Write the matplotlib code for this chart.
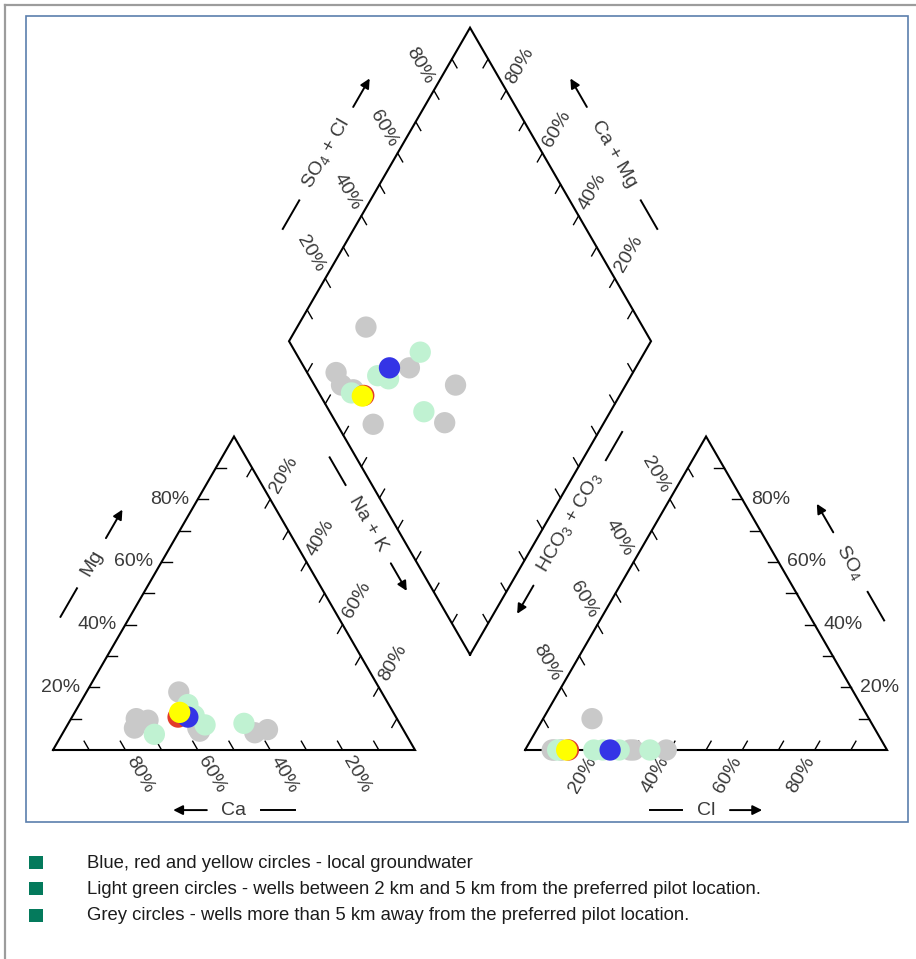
import numpy as np
import matplotlib.pyplot as plt
from matplotlib.patches import Rectangle
from matplotlib.lines import Line2D

plt.rcParams['font.family'] = ['Liberation Sans', 'DejaVu Sans']
plt.rcParams['mathtext.fontset'] = 'custom'
plt.rcParams['mathtext.rm'] = 'Liberation Sans'
plt.rcParams['mathtext.it'] = 'Liberation Sans:italic'
plt.rcParams['mathtext.bf'] = 'Liberation Sans:bold'

# sample chemistry, % of meq  (Ca = 100 - Mg - Na,  HCO3 = 100 - SO4 - Cl)
grey_mg = [7, 10, 9.5, 6, 5.5, 6.5, 18.5, 7]
grey_na = [19, 18, 21.5, 37.5, 53, 56, 25.5, 36.5]
grey_so4 = [10, 0, 0, 0, 0, 0, 0, 0]
grey_cl = [13.5, 8, 7.5, 29, 39, 30, 10, 10]

green_mg = [14.5, 5, 8, 8.5, 11]
green_na = [30, 25.5, 38, 48.5, 33.5]
green_so4 = [0, 0, 0, 0, 0]
green_cl = [19, 9, 34.5, 26, 21.5]

# local groundwater: red, blue, yellow
local_mg = [10.5, 10.5, 12]
local_na = [29.3, 32, 29]
local_so4 = [0, 0, 0]
local_cl = [12, 23.5, 11.5]
local_colors = ['#e23b2a', '#3434e6', '#ffff00']

tick_vals = [20, 40, 60, 80]
legend_lines = [
    'Blue, red and yellow circles - local groundwater',
    'Light green circles - wells between 2 km and 5 km from the preferred pilot location.',
    'Grey circles - wells more than 5 km away from the preferred pilot location.',
]

# geometry (side of each triangle = 1)
H = np.sqrt(3) / 2
GAP = 0.304
X0 = 1 + GAP              # left corner of the anion triangle
BX, BY = 1 + GAP / 2, GAP * H   # bottom corner of the diamond
U1 = np.array([0.5, H])
U2 = np.array([-0.5, H])


def cation_xy(mg, na):
    mg = np.asarray(mg) / 100.
    na = np.asarray(na) / 100.
    return na + mg / 2, mg * H


def anion_xy(so4, cl):
    so4 = np.asarray(so4) / 100.
    cl = np.asarray(cl) / 100.
    return X0 + cl + so4 / 2, so4 * H


def diamond_xy(mg, na, so4, cl):
    s = (np.asarray(so4) + np.asarray(cl)) / 100.
    c = 1 - np.asarray(na) / 100.
    return BX + (s - c) / 2, BY + (s + c) * H


W, Hpx = 916, 959
PX = 362.0   # pixels per unit
fig = plt.figure(figsize=(W / 100, Hpx / 100), dpi=100)
ax = fig.add_axes([0, 0, 1, 1])
ax.set_xlim(-53 / PX, (W - 53) / PX)
ax.set_ylim((750 - Hpx) / PX, 750 / PX)
ax.axis('off')

# page frames
fig.add_artist(Line2D([5 / W, 5 / W], [0, 1 - 5 / Hpx], transform=fig.transFigure,
                      color='#9c9c9c', lw=1.6))
fig.add_artist(Line2D([5 / W, 1], [1 - 5 / Hpx, 1 - 5 / Hpx], transform=fig.transFigure,
                      color='#9c9c9c', lw=1.6))
fig.add_artist(Rectangle((26 / W, 1 - 822 / Hpx), (908 - 26) / W, (822 - 16) / Hpx,
                         transform=fig.transFigure, fill=False, edgecolor='#5b7fad', lw=1.2))

LW = 1.5
TL = 0.028        # tick length
LO = 0.078        # tick label offset
lab_kw = dict(fontsize=14, color='#3a3a3a', ha='center', va='center')


def axis_ticks(p0, p1, inward, labels=None, out=None, rot=0):
    # p0 -> p1 runs from 0 % to 100 % of the labelled variable
    p0, p1 = np.array(p0), np.array(p1)
    inward = np.array(inward)
    for k in range(1, 10):
        p = p0 + (p1 - p0) * k / 10
        q = p + TL * inward
        ax.plot([p[0], q[0]], [p[1], q[1]], color='k', lw=1.0)
    if labels:
        for v in tick_vals:
            p = p0 + (p1 - p0) * v / 100 + LO * np.array(out)
            ax.text(p[0], p[1], '%d%%' % v, rotation=rot, rotation_mode='anchor',
                    **lab_kw)


def outline(pts):
    pts = np.array(pts + [pts[0]])
    ax.plot(pts[:, 0], pts[:, 1], color='k', lw=LW, solid_joinstyle='miter')


# cation triangle
outline([(0, 0), (1, 0), (0.5, H)])
axis_ticks((1, 0), (0, 0), (-0.5, H), True, (0.5, -H), -60)          # Ca
axis_ticks((0, 0), (0.5, H), (1, 0), True, (-1, 0), 0)               # Mg
axis_ticks((0.5, H), (1, 0), (-0.5, -H), True, (0.5, H), 60)         # Na + K

# anion triangle
outline([(X0, 0), (X0 + 1, 0), (X0 + 0.5, H)])
axis_ticks((X0, 0), (X0 + 1, 0), (0.5, H), True, (-0.5, -H), 60)     # Cl
axis_ticks((X0 + 1, 0), (X0 + 0.5, H), (-1, 0), True, (1, 0), 0)     # SO4
axis_ticks((X0 + 0.5, H), (X0, 0), (0.5, -H), True, (-0.5, H), -60)  # HCO3 + CO3

# diamond
B = np.array([BX, BY])
outline([tuple(B), tuple(B + U1), tuple(B + U1 + U2), tuple(B + U2)])
axis_ticks(B + U2, B + U1 + U2, -U2, True, U2, -60)   # SO4 + Cl
axis_ticks(B + U1, B + U1 + U2, -U1, True, U1, 60)    # Ca + Mg
axis_ticks(B, B + U2, U1, False)
axis_ticks(B, B + U1, U2, False)


def axis_title(mid, d, n, txt, rot, inner, outer, off, shift=0.0):
    # title with a dash before it and an arrow after it, arrow pointing along d
    d, n = np.array(d), np.array(n)
    c = np.array(mid) + shift * d + off * n
    ax.text(c[0], c[1], txt, rotation=rot, rotation_mode='anchor', **lab_kw)
    a, b = c - inner * d, c - outer * d
    ax.plot([a[0], b[0]], [a[1], b[1]], color='k', lw=1.4)
    a, b = c + inner * d, c + outer * d
    ax.annotate('', xy=b, xytext=a,
                arrowprops=dict(arrowstyle='-|>', color='k', lw=1.4,
                                mutation_scale=14, shrinkA=0, shrinkB=0))


OFF = 0.166
axis_title((0.25, H / 2), (0.5, H), (-H, 0.5), 'Mg', 60, 0.08, 0.171, OFF)
axis_title((0.5, 0), (-1, 0), (0, -1), 'Ca', 0, 0.075, 0.168, OFF)
axis_title((0.75, H / 2), (0.5, -H), (H, 0.5), 'Na + K', -60, 0.125, 0.213, 0.2, -0.105)
axis_title((X0 + 0.5, 0), (1, 0), (0, -1), 'Cl', 0, 0.066, 0.155, OFF)
axis_title((X0 + 0.75, H / 2), (-0.5, H), (H, 0.5), 'SO$_4$', -60, 0.095, 0.186, 0.172)
axis_title((X0 + 0.25, H / 2), (-0.5, -H), (-H, 0.5), 'HCO$_3$ + CO$_3$', 60,
           0.2, 0.29, 0.207, -0.105)
m = B + U2 + 0.5 * U1
axis_title(m, U1, (-H, 0.5), 'SO$_4$ + Cl', 60, 0.149, 0.24, 0.17)
m = B + U1 + 0.5 * U2
axis_title(m, U2, (H, 0.5), 'Ca + Mg', -60, 0.149, 0.24, 0.17)

# samples
MS = 235
groups = [
    (grey_mg, grey_na, grey_so4, grey_cl, ['#c9c9c9'] * len(grey_mg)),
    (green_mg, green_na, green_so4, green_cl, ['#c0f2d2'] * len(green_mg)),
    (local_mg, local_na, local_so4, local_cl, local_colors),
]
for mg, na, so4, cl, cols in groups:
    for i in range(len(mg)):
        x, y = cation_xy(mg[i], na[i])
        ax.scatter(x, y, s=MS, color=cols[i], edgecolors='none', zorder=3)
        x, y = anion_xy(so4[i], cl[i])
        ax.scatter(x, y, s=MS, color=cols[i], edgecolors='none', zorder=3)
        x, y = diamond_xy(mg[i], na[i], so4[i], cl[i])
        ax.scatter(x, y, s=MS, color=cols[i], edgecolors='none', zorder=3)

# notes under the diagram
for i, line in enumerate(legend_lines):
    yc = 862 + 26.5 * i
    fig.add_artist(Rectangle((29 / W, 1 - (yc + 6.5) / Hpx), 14 / W, 13 / Hpx,
                             transform=fig.transFigure, facecolor='#047a5c',
                             edgecolor='none'))
    fig.text(87 / W, 1 - (yc + 5.5) / Hpx, line, fontsize=13.3, color='#1c1c1c',
             ha='left', va='baseline')

fig.savefig('out.png', dpi=100)
